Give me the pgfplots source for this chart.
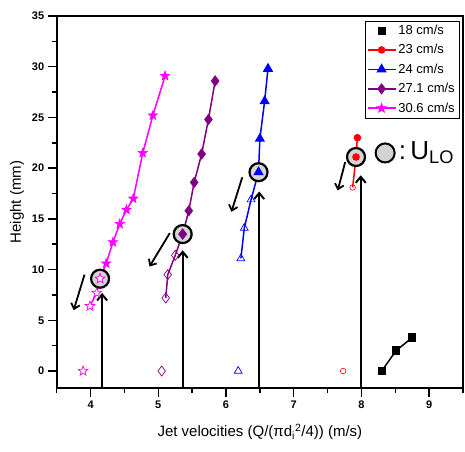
\documentclass[border=0pt]{standalone}
\usepackage{pgfplots}
\pgfplotsset{compat=1.18}
\usepackage{fontspec}
\setmainfont{Liberation Sans}
\usetikzlibrary{arrows.meta}
\definecolor{mag}{RGB}{255,0,255}
\definecolor{pur}{RGB}{128,0,128}
\definecolor{ulo}{RGB}{212,212,212}

% five-pointed star mark
\pgfdeclareplotmark{fivestar}{%
  \pgfpathmoveto{\pgfpointpolar{90}{\pgfplotmarksize}}%
  \pgfpathlineto{\pgfpointpolar{126}{0.42\pgfplotmarksize}}%
  \pgfpathlineto{\pgfpointpolar{162}{\pgfplotmarksize}}%
  \pgfpathlineto{\pgfpointpolar{198}{0.42\pgfplotmarksize}}%
  \pgfpathlineto{\pgfpointpolar{234}{\pgfplotmarksize}}%
  \pgfpathlineto{\pgfpointpolar{270}{0.42\pgfplotmarksize}}%
  \pgfpathlineto{\pgfpointpolar{306}{\pgfplotmarksize}}%
  \pgfpathlineto{\pgfpointpolar{342}{0.42\pgfplotmarksize}}%
  \pgfpathlineto{\pgfpointpolar{18}{\pgfplotmarksize}}%
  \pgfpathlineto{\pgfpointpolar{54}{0.42\pgfplotmarksize}}%
  \pgfpathclose
  \pgfusepathqfillstroke
}

\begin{document}
\begin{tikzpicture}
\begin{axis}[
    scale only axis,
    width=406pt, height=372pt,
    xmin=3.5, xmax=9.5, ymin=-1.7, ymax=35,
    xtick={4,...,9}, ytick={0,5,...,35},
    minor xtick={3.5,4.5,...,9.5},
    minor ytick={2.5,7.5,...,32.5},
    tick align=outside, xtick pos=bottom, ytick pos=left,
    major tick length=9pt, minor tick length=5pt,
    every tick/.style={black, line width=1.5pt},
    axis line style={line width=2pt},
    clip=false,
    /pgf/number format/assume math mode=true,
    ticklabel style={font=\bfseries\fontsize{11}{12}\selectfont},
    label style={font=\fontsize{15}{17}\selectfont},
    xlabel={Jet velocities (Q/(πd\textsubscript{i}\textsuperscript{2}/4)) (m/s)},
    ylabel={Height (mm)},
    xlabel style={at={(axis description cs:0.5,-0.118)}, anchor=center},
    ylabel style={at={(axis description cs:-0.098,0.5)}, anchor=center},
    legend style={at={(0.99,0.987)}, anchor=north east, draw=black, thin,
        font=\fontsize{13}{15}\selectfont, row sep=4.5pt, inner sep=2pt},
    legend cell align=left,
    legend image code/.code={\draw[mark repeat=2,mark phase=2] plot coordinates {(0pt,0pt) (14pt,0pt) (28pt,0pt)};},
]
% U_LO circles
\addplot[only marks, mark=*, mark size=9pt, mark options={fill=ulo, draw=black, line width=2.2pt}, forget plot]
    coordinates {(4.14,9.1) (5.36,13.5) (6.48,19.6) (7.92,21.1)};

% 18 cm/s
\addlegendimage{black, only marks, mark=square*, mark size=3.5pt}
\addlegendentry{18 cm/s}
\addplot[black, line width=1.5pt, mark=square*, mark size=3.5pt, forget plot]
    coordinates {(8.30,0) (8.51,2.0) (8.75,3.3)};

% 23 cm/s
\addplot[red, line width=1.5pt, mark=*, mark size=3pt]
    coordinates {(7.92,21.1) (7.94,23.0)};
\addlegendentry{23 cm/s}
\addplot[red, line width=1.5pt, mark=o, mark size=2.8pt, mark options={fill=white, line width=0.6pt}, forget plot]
    coordinates {(7.87,18.1) (7.92,21.1)};
\addplot[red, only marks, mark=o, mark size=2.8pt, mark options={line width=0.6pt}, forget plot]
    coordinates {(7.73,0)};

% 24 cm/s
\addplot[blue, line width=1.5pt, mark=triangle*, mark size=4.5pt]
    coordinates {(6.48,19.6) (6.50,22.9) (6.57,26.6) (6.62,29.8)};
\addlegendentry{24 cm/s}
\addplot[blue, line width=1.5pt, mark=triangle, mark size=4.5pt, mark options={fill=white, line width=0.7pt}, forget plot]
    coordinates {(6.22,11.1) (6.27,14.1) (6.37,16.9) (6.48,19.6)};
\addplot[blue, only marks, mark=triangle, mark size=4.5pt, mark options={line width=0.7pt}, forget plot]
    coordinates {(6.18,0)};

% 27.1 cm/s
\addplot[pur, line width=1.5pt, mark=diamond*, mark size=4.5pt]
    coordinates {(5.36,13.5) (5.45,15.8) (5.53,18.6) (5.64,21.4) (5.74,24.8) (5.84,28.6)};
\addlegendentry{27.1 cm/s}
\addplot[pur, line width=1.5pt, mark=diamond, mark size=5pt, mark options={fill=white, line width=0.7pt}, forget plot]
    coordinates {(5.11,7.2) (5.14,9.5) (5.25,11.4) (5.36,13.5)};
\addplot[pur, only marks, mark=diamond, mark size=5pt, mark options={line width=0.7pt}, forget plot]
    coordinates {(5.05,0)};

% 30.6 cm/s
\addplot[mag, line width=1.5pt, mark=fivestar, mark size=5pt, mark options={line width=0.5pt}]
    coordinates {(4.14,9.1) (4.23,10.6) (4.33,12.7) (4.43,14.5) (4.53,15.9) (4.63,17.0) (4.77,21.5) (4.92,25.2) (5.10,29.1)};
\addlegendentry{30.6 cm/s}
\addplot[mag, line width=1.5pt, mark=fivestar, mark size=5pt, mark options={fill=white, line width=0.7pt}, forget plot]
    coordinates {(3.99,6.4) (4.09,7.7) (4.14,9.1)};
\addplot[mag, only marks, mark=fivestar, mark size=5pt, mark options={fill=white, line width=0.7pt}, forget plot]
    coordinates {(3.89,0)};

% vertical arrows to U_LO
\draw[black, line width=2pt, -{Straight Barb[length=6pt,width=10pt,line width=2pt]}] (axis cs:4.17,-1.7) -- (axis cs:4.17,7.7);
\draw[black, line width=2pt, -{Straight Barb[length=6pt,width=10pt,line width=2pt]}] (axis cs:5.36,-1.7) -- (axis cs:5.36,11.9);
\draw[black, line width=2pt, -{Straight Barb[length=6pt,width=10pt,line width=2pt]}] (axis cs:6.49,-1.7) -- (axis cs:6.49,17.7);
\draw[black, line width=2pt, -{Straight Barb[length=6pt,width=10pt,line width=2pt]}] (axis cs:7.99,-1.7) -- (axis cs:7.99,19.3);
% diagonal arrows
\draw[black, line width=1.8pt, -{Straight Barb[length=5pt,width=9pt,line width=1.8pt]}] (axis cs:3.91,9.5) -- (axis cs:3.75,6.0);
\draw[black, line width=1.8pt, -{Straight Barb[length=5pt,width=9pt,line width=1.8pt]}] (axis cs:5.17,13.6) -- (axis cs:4.87,10.3);
\draw[black, line width=1.8pt, -{Straight Barb[length=5pt,width=9pt,line width=1.8pt]}] (axis cs:6.24,19.1) -- (axis cs:6.08,15.7);
\draw[black, line width=1.8pt, -{Straight Barb[length=5pt,width=9pt,line width=1.8pt]}] (axis cs:7.76,20.6) -- (axis cs:7.65,17.8);

% U_LO key
\node[circle, draw=black, line width=2pt, fill=ulo, minimum size=19pt, inner sep=0pt] (u) at (axis cs:8.35,21.5) {};
\node[anchor=west, inner sep=3pt, font=\fontsize{26}{28}\selectfont] at (u.east) {:\,U\textsubscript{LO}};

\coordinate (bl) at (rel axis cs:0,0);
\coordinate (tr) at (rel axis cs:1,1);
\end{axis}
\path (bl) ++(-56.7pt,-63pt);
\path (tr) ++(2pt,16pt);
\end{tikzpicture}
\end{document}
